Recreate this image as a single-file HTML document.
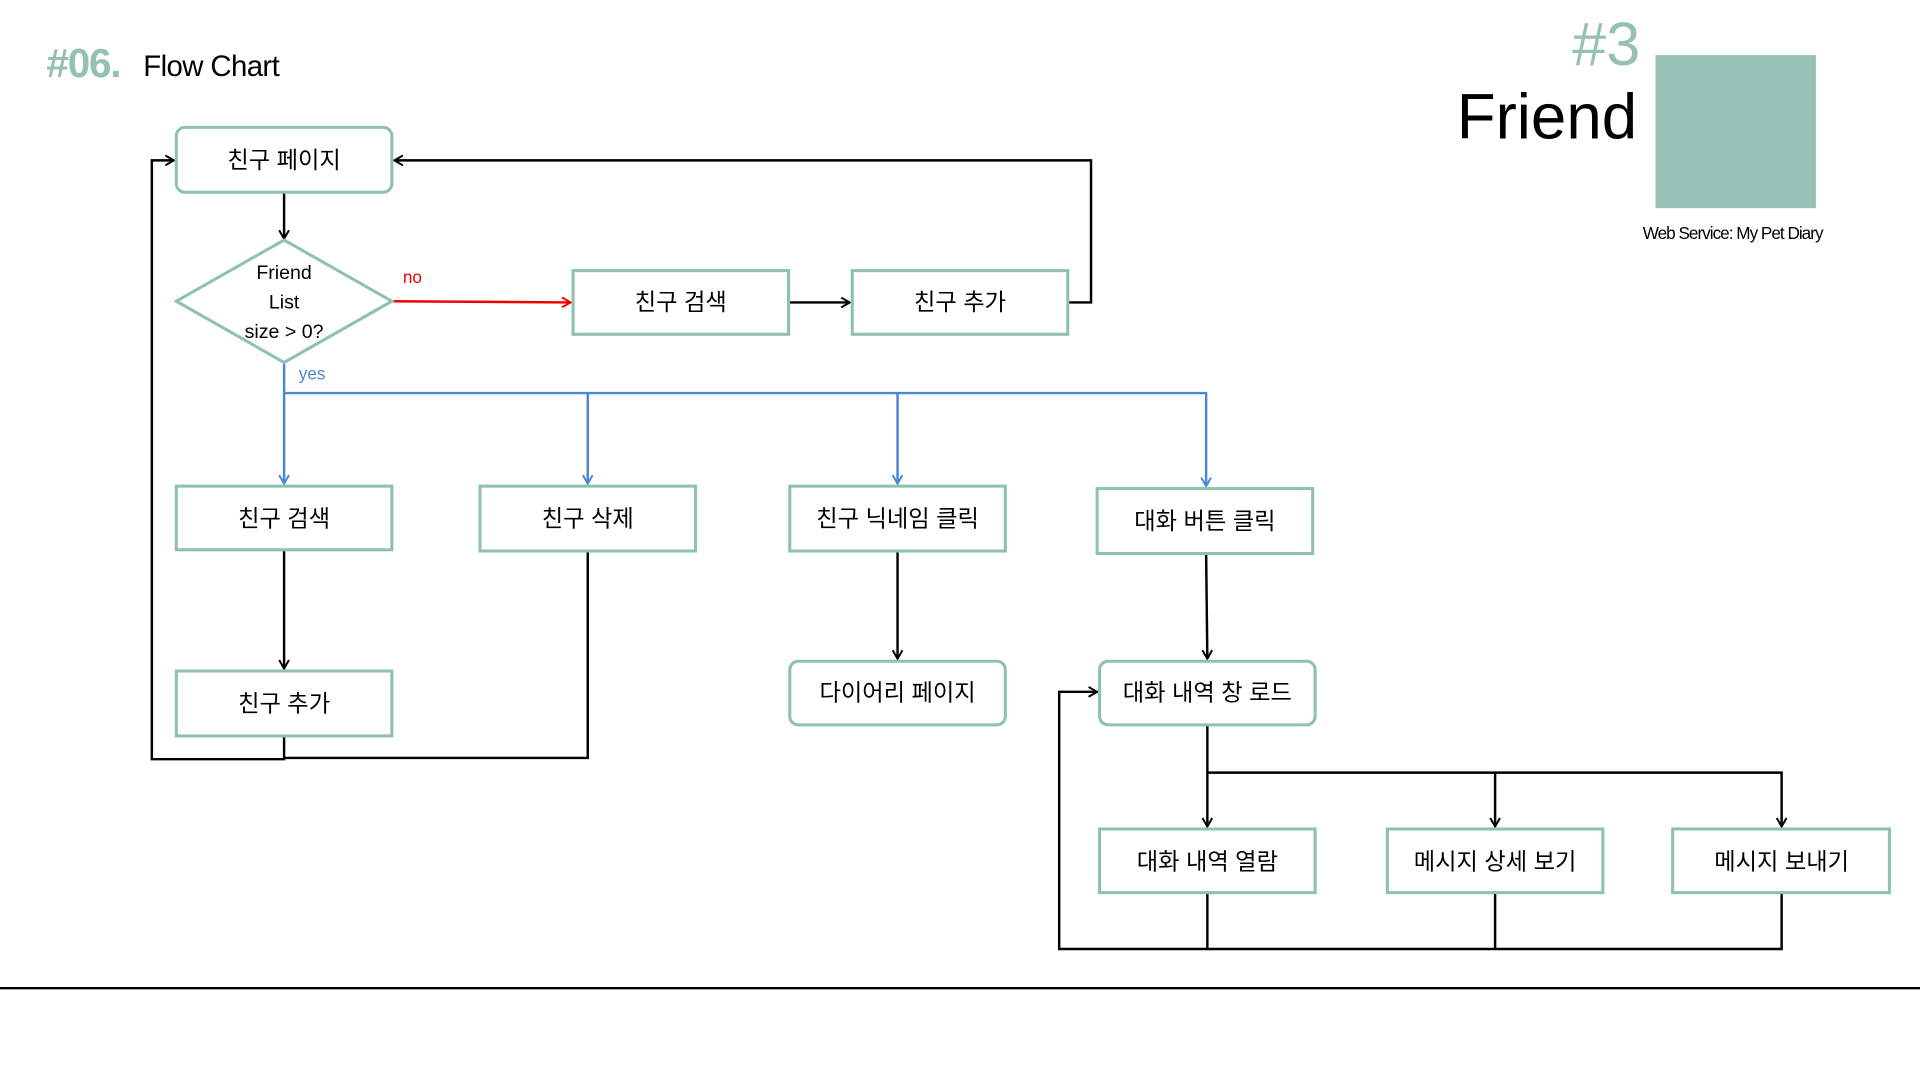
<!DOCTYPE html>
<html><head><meta charset="utf-8"><style>
html,body{margin:0;padding:0;background:#fff;width:1920px;height:1080px;overflow:hidden}
svg{display:block}
text{font-family:"Liberation Sans","Noto Sans CJK KR",sans-serif}
</style></head><body>
<svg width="1920" height="1080" viewBox="0 0 1568 882" preserveAspectRatio="none" xmlns="http://www.w3.org/2000/svg">
<defs>
<marker id="ak" markerWidth="10" markerHeight="10" refX="8" refY="5" orient="auto" markerUnits="userSpaceOnUse"><path d="M1,1 L8,5 L1,9" fill="none" stroke="#000" stroke-width="1.6"/></marker>
<marker id="ar" markerWidth="10" markerHeight="10" refX="8" refY="5" orient="auto" markerUnits="userSpaceOnUse"><path d="M1,1 L8,5 L1,9" fill="none" stroke="#e00" stroke-width="1.6"/></marker>
<marker id="ab" markerWidth="10" markerHeight="10" refX="8" refY="5" orient="auto" markerUnits="userSpaceOnUse"><path d="M1,1 L8,5 L1,9" fill="none" stroke="#4a86d4" stroke-width="1.6"/></marker>
</defs>
<text x="38" y="63" font-size="33" font-weight="bold" fill="#94c1b4" letter-spacing="-1">#06.</text>
<text x="117" y="62" font-size="24" fill="#000" letter-spacing="-0.5">Flow Chart</text>
<text x="1284" y="53" font-size="50" fill="#94c1b4">#3</text>
<text x="1337" y="113" font-size="52" fill="#000" text-anchor="end">Friend</text>
<rect x="1352" y="45" width="131" height="125" fill="#95c2b5"/>
<text x="1415" y="195" font-size="14" text-anchor="middle" letter-spacing="-0.8">Web Service: My Pet Diary</text>
<line x1="0" y1="807" x2="1568" y2="807" stroke="#000" stroke-width="2"/>

<g fill="none" stroke="#000" stroke-width="2">
<line x1="232" y1="157" x2="232" y2="195" marker-end="url(#ak)"/>
<line x1="644" y1="247" x2="694" y2="247" marker-end="url(#ak)"/>
<polyline points="872,247 891,247 891,131 322,131" marker-end="url(#ak)"/>
<line x1="232" y1="449" x2="232" y2="546" marker-end="url(#ak)"/>
<polyline points="232,601 232,620 124,620 124,131 142,131" marker-end="url(#ak)"/>
<polyline points="480,450 480,619 232,619"/>
<line x1="733" y1="450" x2="733" y2="538" marker-end="url(#ak)"/>
<line x1="985" y1="452" x2="986" y2="538" marker-end="url(#ak)"/>
<line x1="986" y1="592" x2="986" y2="675" marker-end="url(#ak)"/>
<polyline points="986,631 1455,631 1455,675" marker-end="url(#ak)"/>
<line x1="1221" y1="631" x2="1221" y2="675" marker-end="url(#ak)"/>
<polyline points="1455,729 1455,775 865,775 865,565 896,565" marker-end="url(#ak)"/>
<line x1="986" y1="729" x2="986" y2="775"/>
<line x1="1221" y1="729" x2="1221" y2="775"/>
</g>
<line x1="320" y1="246" x2="466" y2="247" stroke="#e00" stroke-width="2" marker-end="url(#ar)"/>
<text x="329" y="231" font-size="14" fill="#e00">no</text>
<g fill="none" stroke="#4a86d4" stroke-width="2">
<line x1="232" y1="296" x2="232" y2="395" marker-end="url(#ab)"/>
<polyline points="232,321 985,321 985,397" marker-end="url(#ab)"/>
<line x1="480" y1="321" x2="480" y2="395" marker-end="url(#ab)"/>
<line x1="733" y1="321" x2="733" y2="395" marker-end="url(#ab)"/>
</g>
<text x="244" y="310" font-size="14" fill="#4a86d4">yes</text>

<g fill="#fff" stroke="#8fc1b0" stroke-width="2.5">
<rect x="144" y="104" width="176" height="53" rx="7"/>
<polygon points="144,246 232,196 320,246 232,296"/>
<rect x="468" y="221" width="176" height="52"/>
<rect x="696" y="221" width="176" height="52"/>
<rect x="144" y="397" width="176" height="52"/>
<rect x="392" y="397" width="176" height="53"/>
<rect x="645" y="397" width="176" height="53"/>
<rect x="896" y="399" width="176" height="53"/>
<rect x="144" y="548" width="176" height="53"/>
<rect x="645" y="540" width="176" height="52" rx="7"/>
<rect x="898" y="540" width="176" height="52" rx="7"/>
<rect x="898" y="677" width="176" height="52"/>
<rect x="1133" y="677" width="176" height="52"/>
<rect x="1366" y="677" width="177" height="52"/>
</g>
<g font-size="19" text-anchor="middle" fill="#000">
<text x="232" y="137">친구 페이지</text>
<text x="556" y="253">친구 검색</text>
<text x="784" y="253">친구 추가</text>
<text x="232" y="430">친구 검색</text>
<text x="480" y="430">친구 삭제</text>
<text x="733" y="430">친구 닉네임 클릭</text>
<text x="984" y="432">대화 버튼 클릭</text>
<text x="232" y="581">친구 추가</text>
<text x="733" y="572">다이어리 페이지</text>
<text x="986" y="572">대화 내역 창 로드</text>
<text x="986" y="710">대화 내역 열람</text>
<text x="1221" y="710">메시지 상세 보기</text>
<text x="1455" y="710">메시지 보내기</text>
</g>
<g font-size="16" text-anchor="middle" fill="#000">
<text x="232" y="228">Friend</text>
<text x="232" y="252">List</text>
<text x="232" y="276">size &gt; 0?</text>
</g>
</svg>
</body></html>
